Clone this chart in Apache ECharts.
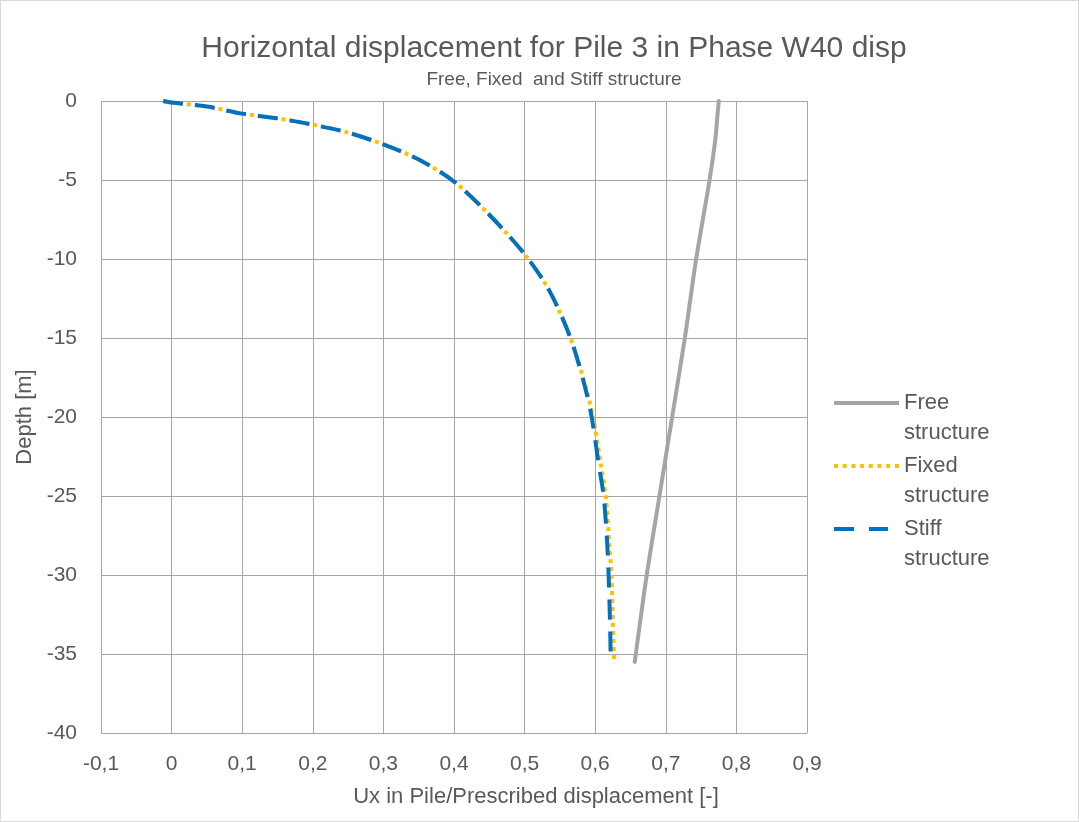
<!DOCTYPE html>
<html>
<head>
<meta charset="utf-8">
<script src="https://cdn.jsdelivr.net/npm/echarts@6/dist/echarts.min.js"></script>
<style>
html,body{margin:0;padding:0;background:#fff;}
#chart{position:absolute;left:0;top:0;width:1077px;height:820px;border:1px solid #d9d9d9;}
</style>
</head>
<body>
<div id="chart"></div>
<script>
// Depth [m] and normalised displacement per series
const freeDepth  = [0, -1, -2.5, -5, -10, -15, -20, -25, -30, -35.5];
const freeUx     = [0.775, 0.773, 0.770, 0.762, 0.743, 0.727, 0.709, 0.691, 0.673, 0.656];

const fixedDepth = [0, -0.1, -0.35, -0.8, -1.1, -1.5, -2.0, -2.75, -3.7, -5.1, -7.2, -9.7, -12, -15, -18, -20, -23, -25, -28, -30, -33, -35.6];
const fixedUx    = [-0.012, 0.0, 0.05, 0.1, 0.15, 0.2, 0.25, 0.3, 0.35, 0.4, 0.45, 0.5, 0.535, 0.565, 0.586, 0.597, 0.608, 0.615, 0.620, 0.623, 0.625, 0.627];

const stiffDepth = [0, -0.1, -0.35, -0.8, -1.1, -1.5, -2.0, -2.75, -3.7, -5.1, -7.2, -9.7, -12, -15, -18, -20, -23, -25, -28, -30, -33, -35.4];
const stiffUx    = [-0.012, 0.0, 0.05, 0.1, 0.15, 0.2, 0.25, 0.3, 0.35, 0.4, 0.45, 0.5, 0.535, 0.565, 0.585, 0.595, 0.605, 0.612, 0.617, 0.619, 0.621, 0.622];

const seriesNames = ['Free structure', 'Fixed structure', 'Stiff structure'];
const xTickLabels = ['-0,1','0','0,1','0,2','0,3','0,4','0,5','0,6','0,7','0,8','0,9'];
const yTickLabels = ['-40','-35','-30','-25','-20','-15','-10','-5','0'];

const titleText = 'Horizontal displacement for Pile 3 in Phase W40 disp';
const subtitleText = 'Free, Fixed  and Stiff structure';

function zip(xs, ys){ return xs.map((x,i)=>[x, ys[i]]); }

const FONT = 'Liberation Sans';
const TXT = '#595959';
const GRID = '#a6a6a6';

// legend icon shapes (65 x 4 box)
let dotPath = '';
for (let i = 0; i < 8; i++) { const x = (i * 8.7).toFixed(1); dotPath += 'M' + x + ',0h4v4h-4z'; }
const legendIcons = [
  'path://M0,0H65V4H0Z',
  'path://' + dotPath + 'M65,0L65,4',
  'path://M0,0H20V4H0Z M35,0H54V4H35Z M65,0L65,4'
];

const chart = echarts.init(document.getElementById('chart'));

function legendFor(i, top){
  return {
    data: [{name: seriesNames[i], icon: legendIcons[i]}],
    orient: 'vertical',
    left: 828,
    top: top,
    itemWidth: 65,
    itemHeight: 4,
    selectedMode: false,
    formatter: n => '\n' + n.replace(' ', '\n'),
    textStyle: {fontFamily: FONT, fontSize: 22, color: TXT, lineHeight: 30}
  };
}

chart.setOption({
  animation: false,
  title: [
    {text: titleText, left: 548, textAlign: 'center', top: 28, textStyle: {fontFamily: FONT, fontSize: 30, fontWeight: 'normal', color: TXT}},
    {text: subtitleText, left: 548, textAlign: 'center', top: 64, textStyle: {fontFamily: FONT, fontSize: 19, fontWeight: 'normal', color: TXT}}
  ],
  legend: [legendFor(0, 352), legendFor(1, 415), legendFor(2, 478)],
  grid: {left: 100, right: 271, top: 100, bottom: 88, containLabel: false},
  xAxis: {
    type: 'value', min: -0.1, max: 0.9, interval: 0.1,
    name: 'Ux in Pile/Prescribed displacement [-]', nameLocation: 'middle', nameGap: 53,
    nameTextStyle: {fontFamily: FONT, fontSize: 22, color: TXT, padding: [0, 0, 0, 164]},
    axisLine: {show: false}, axisTick: {show: false},
    axisLabel: {fontFamily: FONT, fontSize: 21, color: TXT, margin: 21,
      formatter: v => xTickLabels[Math.round((v + 0.1) * 10)]},
    splitLine: {show: true, lineStyle: {color: GRID, width: 1}}
  },
  yAxis: {
    type: 'value', min: -40, max: 0, interval: 5,
    name: 'Depth [m]', nameLocation: 'middle', nameGap: 62, nameRotate: 90,
    nameTextStyle: {fontFamily: FONT, fontSize: 22, color: TXT},
    axisLine: {show: false}, axisTick: {show: false},
    axisLabel: {fontFamily: FONT, fontSize: 21, color: TXT, margin: 24,
      formatter: v => yTickLabels[Math.round((v + 40) / 5)]},
    splitLine: {show: true, lineStyle: {color: GRID, width: 1}}
  },
  series: [
    {name: seriesNames[0], type: 'line', data: zip(freeUx, freeDepth), symbol: 'none', smooth: 0.3,
     lineStyle: {color: '#A5A5A5', width: 4, cap: 'round'}, itemStyle: {color: '#A5A5A5'}, z: 2},
    {name: seriesNames[1], type: 'line', data: zip(fixedUx, fixedDepth), symbol: 'none', smooth: 0.3,
     lineStyle: {color: '#FFC000', width: 4, type: [4, 4]}, itemStyle: {color: '#FFC000'}, z: 3},
    {name: seriesNames[2], type: 'line', data: zip(stiffUx, stiffDepth), symbol: 'none', smooth: 0.3,
     lineStyle: {color: '#0070C0', width: 4, type: [20, 12]}, itemStyle: {color: '#0070C0'}, z: 4}
  ]
});
</script>
</body>
</html>
